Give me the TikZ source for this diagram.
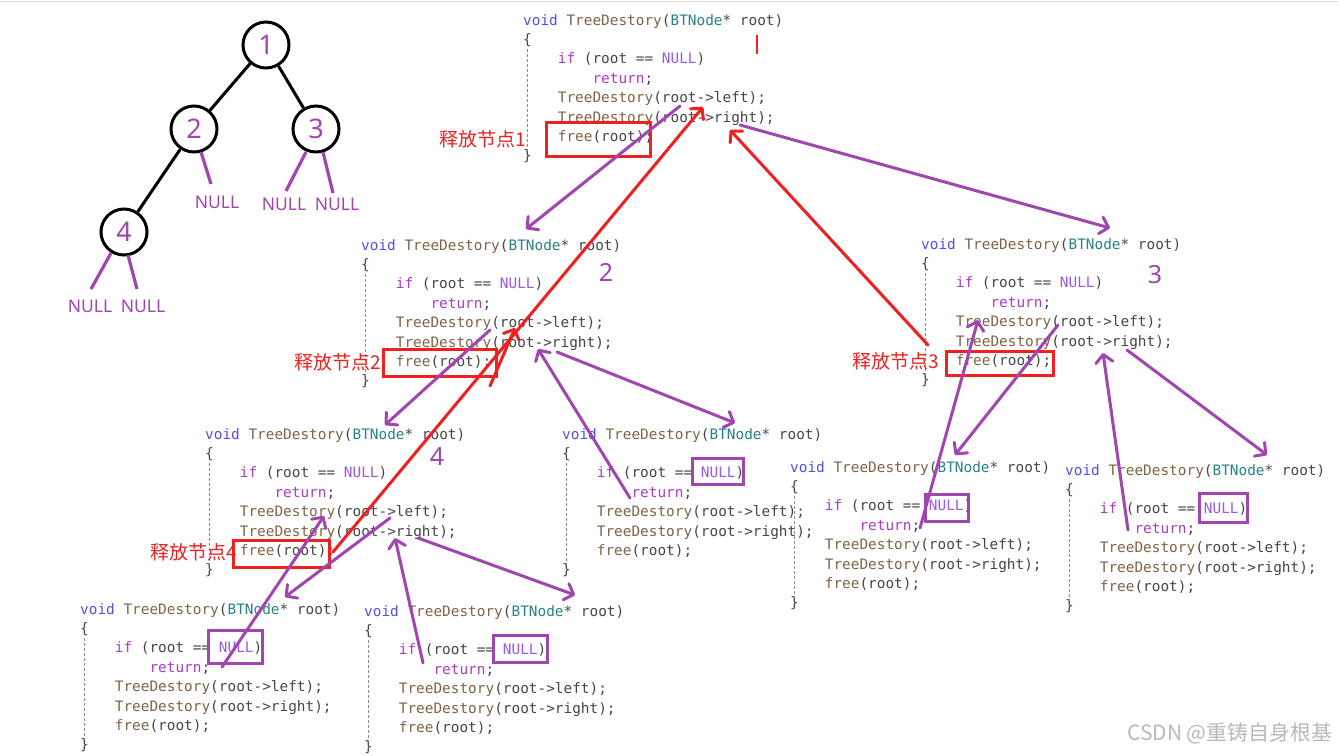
\documentclass[tikz,border=0pt]{standalone}
\usepackage{fontspec}
\usetikzlibrary{arrows.meta}
\newfontfamily\codefont{DejaVu Sans Mono}
\newfontfamily\cjk{Noto Sans CJK SC}
\newfontfamily\treefont{Noto Sans}
\definecolor{kwblue}{RGB}{80,80,235}
\definecolor{fnbrown}{RGB}{125,100,70}
\definecolor{typeteal}{RGB}{40,130,130}
\definecolor{ctrlpurple}{RGB}{170,60,200}
\definecolor{nullviolet}{RGB}{150,90,235}
\definecolor{plaingrey}{RGB}{70,70,70}
\definecolor{annpurple}{RGB}{160,70,175}
\definecolor{annred}{RGB}{238,32,32}
\definecolor{wmgrey}{RGB}{185,185,185}
\newcommand\cw{8.67}
\newcommand\codeblk[3]{%
  \begin{scope}[shift={(#2,#3)}]
    \node[codeline] (#1-0) at (0,0) {\textcolor{kwblue}{void} \textcolor{fnbrown}{TreeDestory}(\textcolor{typeteal}{BTNode}* root)};
    \node[codeline] (#1-1) at (0,19.4) {\{};
    \node[codeline] (#1-2) at (4*\cw,38.8) {\textcolor{ctrlpurple}{if} (root == \textcolor{nullviolet}{NULL})};
    \node[codeline] (#1-3) at (8*\cw,58.2) {\textcolor{ctrlpurple}{return};};
    \node[codeline] (#1-4) at (4*\cw,77.6) {\textcolor{fnbrown}{TreeDestory}(root->left);};
    \node[codeline] (#1-5) at (4*\cw,97) {\textcolor{fnbrown}{TreeDestory}(root->right);};
    \node[codeline] (#1-6) at (4*\cw,116.4) {\textcolor{fnbrown}{free}(root);};
    \node[codeline] (#1-7) at (0,135.8) {\}};
    \draw[guide] (4,24) -- (4,126);
  \end{scope}}
\begin{document}
\begin{tikzpicture}[x=1pt,y=-1pt,
  codeline/.style={anchor=base west,inner sep=0pt,text=plaingrey,
    font=\codefont\fontsize{14.4}{17}\selectfont},
  guide/.style={draw=black!45,line width=0.8pt,dash pattern=on 3pt off 2pt},
  treenode/.style={circle,draw=black,line width=3pt,minimum size=46pt,inner sep=0pt,
    text=annpurple,font=\treefont\fontsize{27}{30}\selectfont},
  treeedge/.style={black,line width=3pt},
  stub/.style={annpurple,line width=3.2pt},
  nulltxt/.style={text=annpurple,inner sep=0pt,font=\treefont\fontsize{17.5}{20}\selectfont},
  parrow/.style={annpurple,line width=3pt,line cap=round,
    -{Straight Barb[length=8pt,width=17pt,round]}},
  rarrow/.style={annred,line width=3pt,line cap=round,
    -{Straight Barb[length=8pt,width=17pt,round]}},
  redbox/.style={draw=annred,line width=3pt},
  nullbox/.style={draw=annpurple,line width=3pt},
  freelabel/.style={anchor=east,inner sep=0pt,text=annred,font=\cjk\fontsize{19}{22}\selectfont},
  handnum/.style={inner sep=0pt,text=annpurple,font=\treefont\fontsize{25}{28}\selectfont}]
\useasboundingbox (0,0) rectangle (1338,755);
\fill[white] (0,0) rectangle (1338,755);
\draw[black!12,line width=1pt] (0,1) -- (1338,1);

% ---------- tree ----------
\node[treenode] (n1) at (266,45) {1};
\node[treenode] (n2) at (194,129) {2};
\node[treenode] (n3) at (316,129) {3};
\node[treenode] (n4) at (124,232) {4};
\draw[treeedge] (n1) -- (n2);
\draw[treeedge] (n1) -- (n3);
\draw[treeedge] (n2) -- (n4);
\node[nulltxt] (nl2) at (217,202) {NULL};
\node[nulltxt] (nl3a) at (284,204) {NULL};
\node[nulltxt] (nl3b) at (337,204) {NULL};
\node[nulltxt] (nl4a) at (90,306) {NULL};
\node[nulltxt] (nl4b) at (143,306) {NULL};
\coordinate (s2a) at (201,152); \coordinate (s2b) at (211,184);
\coordinate (s3a) at (306,152); \coordinate (s3b) at (286,191);
\coordinate (s3c) at (323,152); \coordinate (s3d) at (333,193);
\coordinate (s4a) at (111,253); \coordinate (s4b) at (91,289);
\coordinate (s4c) at (128,255); \coordinate (s4d) at (137,289);
\draw[stub] (s2a) -- (s2b);
\draw[stub] (s3a) -- (s3b);
\draw[stub] (s3c) -- (s3d);
\draw[stub] (s4a) -- (s4b);
\draw[stub] (s4c) -- (s4d);

% ---------- code blocks ----------
\codeblk{cA}{523}{25}
\codeblk{cB}{361}{250}
\codeblk{cC}{921}{249}
\codeblk{cD}{205}{439}
\codeblk{cE}{562}{439}
\codeblk{cF}{790}{472}
\codeblk{cG}{1065}{475}
\codeblk{cH}{80}{614}
\codeblk{cI}{364}{616}

% ---------- red boxes and labels ----------
\draw[redbox] (546,122) rectangle (650,156);
\draw[redbox] (383,349) rectangle (496,376);
\draw[redbox] (946,351) rectangle (1053,375);
\draw[redbox] (233,540) rectangle (329,567);
\node[freelabel] (f1) at (526,139) {释放节点1};
\node[freelabel] (f2) at (381,362) {释放节点2};
\node[freelabel] (f3) at (939,361) {释放节点3};
\node[freelabel] (f4) at (237,552) {释放节点4};

% ---------- NULL boxes ----------
\draw[nullbox] (692,458) rectangle (743,484);
\draw[nullbox] (925,494) rectangle (968,521);
\draw[nullbox] (1199,493) rectangle (1247,522);
\draw[nullbox] (208,630) rectangle (262,663);
\draw[nullbox] (493,635) rectangle (547,662);

% ---------- hand-written numbers ----------
\draw[annred,line width=2.5pt] (757,35) -- (757,54);
\node[handnum] (h2) at (606,272) {2};
\node[handnum] (h3) at (1155,275) {3};
\node[handnum] (h4) at (437,457) {4};

% ---------- purple call / return arrows ----------
\coordinate (p1s) at (680,106);  \coordinate (p1e) at (526,229);
\coordinate (p2s) at (740,125);  \coordinate (p2e) at (1110,228);
\coordinate (p3s) at (490,330);  \coordinate (p3e) at (385,425);
\coordinate (p4s) at (557,352);  \coordinate (p4e) at (735,423);
\coordinate (p5s) at (630,498);  \coordinate (p5e) at (538,349);
\coordinate (p6s) at (390,518);  \coordinate (p6e) at (285,597);
\coordinate (p7s) at (418,538);  \coordinate (p7e) at (575,595);
\coordinate (p8s) at (222,667);  \coordinate (p8e) at (324,516);
\coordinate (p9s) at (423,663);  \coordinate (p9e) at (395,538);
\coordinate (p10s) at (1058,325); \coordinate (p10e) at (955,455);
\coordinate (p11s) at (920,528);  \coordinate (p11e) at (978,320);
\coordinate (p12s) at (1127,350); \coordinate (p12e) at (1267,455);
\coordinate (p13s) at (1128,530); \coordinate (p13e) at (1103,353);
\foreach \i in {1,...,13} {\draw[parrow] (p\i s) -- (p\i e);}

% ---------- red return arrows ----------
\coordinate (r1s) at (333,552); \coordinate (r1e) at (703,107);
\coordinate (r2s) at (490,386); \coordinate (r2e) at (515,328);
\coordinate (r3s) at (928,345); \coordinate (r3e) at (730,130);
\foreach \i in {1,2,3} {\draw[rarrow] (r\i s) -- (r\i e);}

% ---------- watermark ----------
\node[anchor=east,inner sep=0pt,text=wmgrey,font=\cjk\fontsize{21}{24}\selectfont] (wm) at (1333,733) {CSDN @重铸自身根基};
\end{tikzpicture}
\end{document}
